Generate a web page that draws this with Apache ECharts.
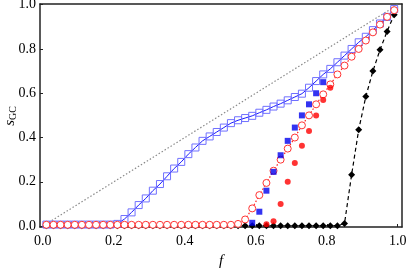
<!DOCTYPE html>
<html>
<head>
<meta charset="utf-8">
<script src="https://cdn.jsdelivr.net/npm/echarts@6/dist/echarts.min.js"></script>
<style>html,body{margin:0;padding:0;background:#fff;}#c{width:409px;height:272px;}</style>
</head>
<body>
<div id="c"></div>
<script>
var fGrid = [0.01,0.03,0.05,0.07,0.09,0.11,0.13,0.15,0.17,0.19,0.21,0.23,0.25,0.27,0.29,0.31,0.33,0.35,0.37,0.39,0.41,0.43,0.45,0.47,0.49,0.51,0.53,0.55,0.57,0.59,0.61,0.63,0.65,0.67,0.69,0.71,0.73,0.75,0.77,0.79,0.81,0.83,0.85,0.87,0.89,0.91,0.93,0.95,0.97,0.99];
var blueOpen = [0.007,0.007,0.007,0.007,0.007,0.007,0.007,0.007,0.007,0.007,0.01,0.032,0.062,0.095,0.125,0.16,0.19,0.225,0.26,0.29,0.325,0.355,0.385,0.405,0.425,0.445,0.465,0.478,0.488,0.498,0.512,0.525,0.54,0.553,0.568,0.583,0.598,0.625,0.655,0.685,0.71,0.74,0.77,0.80,0.83,0.855,0.885,0.915,0.945,0.98];
var redOpen = [0.006,0.006,0.006,0.006,0.006,0.006,0.006,0.006,0.006,0.006,0.006,0.006,0.006,0.006,0.006,0.006,0.006,0.006,0.006,0.006,0.006,0.006,0.006,0.006,0.006,0.006,0.006,0.01,0.03,0.08,0.14,0.195,0.25,0.30,0.35,0.40,0.455,0.50,0.55,0.595,0.64,0.685,0.725,0.765,0.80,0.838,0.875,0.91,0.945,0.975];
var blackDiam = [0.002,0.002,0.002,0.002,0.002,0.002,0.002,0.002,0.002,0.002,0.002,0.002,0.002,0.002,0.002,0.002,0.002,0.002,0.002,0.002,0.002,0.002,0.002,0.002,0.002,0.002,0.002,0.002,0.002,0.002,0.002,0.002,0.002,0.002,0.002,0.002,0.002,0.002,0.002,0.002,0.002,0.002,0.012,0.232,0.435,0.585,0.70,0.796,0.879,0.955];
var blueFilledF = [0.59,0.61,0.63,0.65,0.67,0.69,0.71,0.73,0.75,0.77,0.79];
var blueFilled = [0.015,0.065,0.16,0.245,0.32,0.385,0.445,0.50,0.55,0.60,0.65];
var redFilledF = [0.63,0.65,0.67,0.69,0.71,0.73,0.75,0.77,0.79,0.81];
var redFilled = [0.008,0.022,0.10,0.20,0.285,0.363,0.43,0.50,0.57,0.625];
var diagF = [0,1];
var diagS = [0,1];
var tickVals = [0,0.2,0.4,0.6,0.8,1.0];

function pairs(xs, ys){ return xs.map(function(x,i){ return [x, ys[i]]; }); }

var serif = "'Liberation Serif', 'Times New Roman', serif";
var chart = echarts.init(document.getElementById('c'), null, {renderer:'canvas'});
chart.setOption({
  animation: false,
  backgroundColor: '#fff',
  grid: {left: 40, right: 7, top: 4, bottom: 45, containLabel: false, outerBoundsMode: 'none'},
  graphic: [{
    type: 'text', x: 10, y: 116, rotation: Math.PI / 2,
    style: {
      text: '{s|s}{g|GC}', align: 'center', verticalAlign: 'middle',
      rich: {
        s: {fontFamily: serif, fontStyle: 'italic', fontSize: 15, fill: '#000', color: '#000'},
        g: {fontFamily: serif, fontSize: 10, fill: '#000', color: '#000', padding: [7, 0, 0, 0]}
      }
    }
  }],
  xAxis: [{
    type: 'value', min: -0.008, max: 1.012,
    name: 'f', nameLocation: 'middle', nameGap: 27, nameMoveOverlap: false,
    nameTextStyle: {fontFamily: serif, fontStyle: 'italic', fontSize: 15, color: '#000'},
    axisLine: {show: true, onZero: false, lineStyle: {color: '#222', width: 1.5}},
    axisTick: {show: true, inside: true, length: 3, customValues: tickVals, lineStyle: {color: '#222', width: 1}},
    axisLabel: {show: true, margin: 7, customValues: tickVals, fontFamily: serif, fontSize: 14, color: '#000',
      formatter: function(v){ return v.toFixed(1); }},
    splitLine: {show: false}
  },{
    type: 'value', position: 'top', min: -0.008, max: 1.012,
    axisLine: {show: true, onZero: false, lineStyle: {color: '#222', width: 1.5}},
    axisTick: {show: false}, axisLabel: {show: false}, splitLine: {show: false}
  }],
  yAxis: [{
    type: 'value', min: -0.004, max: 1.003,
    axisLine: {show: true, onZero: false, lineStyle: {color: '#222', width: 1.5}},
    axisTick: {show: true, inside: true, length: 3, customValues: tickVals, lineStyle: {color: '#222', width: 1}},
    axisLabel: {show: true, margin: 4, customValues: tickVals, fontFamily: serif, fontSize: 14, color: '#000',
      formatter: function(v){ return v.toFixed(1); }},
    splitLine: {show: false}
  },{
    type: 'value', position: 'right', min: -0.004, max: 1.003,
    axisLine: {show: true, onZero: false, lineStyle: {color: '#222', width: 1.5}},
    axisTick: {show: false}, axisLabel: {show: false}, splitLine: {show: false}
  }],
  series: [
    {type: 'line', data: pairs(diagF, diagS), symbol: 'none', z: 1,
      lineStyle: {color: '#8a8a8a', width: 1.2, type: [1.5, 2]}},
    {type: 'line', data: pairs(fGrid, blackDiam), symbol: 'diamond', symbolSize: 7, z: 2,
      itemStyle: {color: '#000'}, lineStyle: {color: '#000', width: 1.2, type: [4, 3]}},
    {type: 'line', data: pairs(fGrid, blueOpen), symbol: 'rect', symbolSize: 7, z: 3,
      itemStyle: {color: 'rgba(255,255,255,0)', borderColor: '#7070ff', borderWidth: 1},
      lineStyle: {color: '#1a1aff', width: 1}},
    {type: 'line', data: pairs(fGrid, redOpen), symbol: 'circle', symbolSize: 7, z: 4,
      itemStyle: {color: '#fff', borderColor: '#ff3333', borderWidth: 1},
      lineStyle: {color: '#ff2020', width: 1.2, type: [1.5, 2]}},
    {type: 'scatter', data: pairs(blueFilledF, blueFilled), symbol: 'rect', symbolSize: 6, z: 5,
      itemStyle: {color: '#0000ee'}},
    {type: 'scatter', data: pairs(redFilledF, redFilled), symbol: 'circle', symbolSize: 6, z: 6,
      itemStyle: {color: '#ff0000'}}
  ]
});
</script>
</body>
</html>
